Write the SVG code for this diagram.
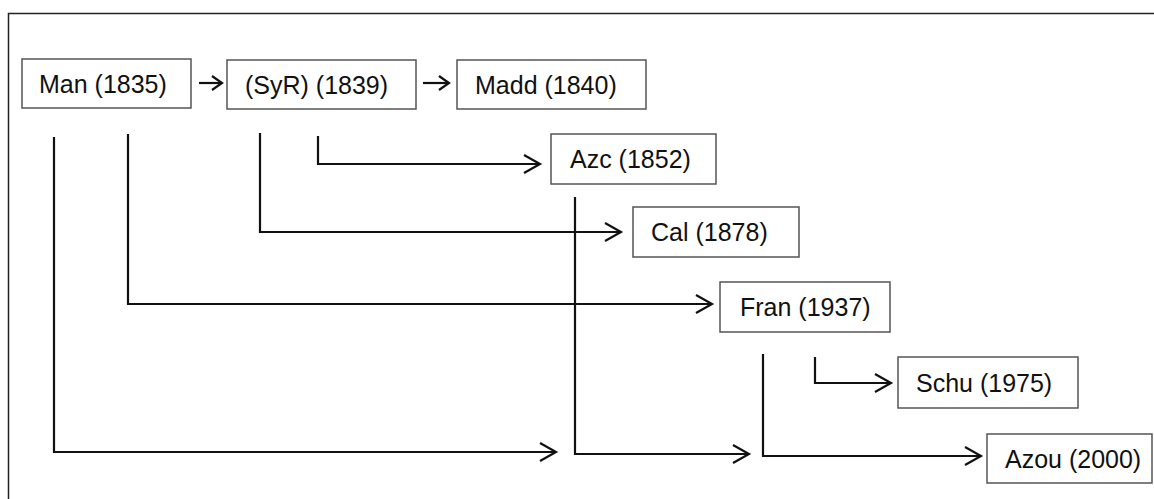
<svg xmlns="http://www.w3.org/2000/svg" width="1154" height="499" viewBox="0 0 1154 499">
<style>
.box{fill:#fff;stroke:#555;stroke-width:1.5}
.lbl{font-family:"Liberation Sans",Arial,sans-serif;font-size:25px;fill:#111}
.c{fill:none;stroke:#111;stroke-width:2.2}
</style>
<defs>
<marker id="ah" markerUnits="userSpaceOnUse" markerWidth="22" markerHeight="24" viewBox="-19 -12 22 24" refX="0" refY="0" orient="auto">
<path d="M-16,-9 L0,0 L-16,9" fill="none" stroke="#111" stroke-width="2.2"/>
</marker>
<marker id="ahs" markerUnits="userSpaceOnUse" markerWidth="16" markerHeight="18" viewBox="-13 -9 16 18" refX="0" refY="0" orient="auto">
<path d="M-10,-7 L0,0 L-10,7" fill="none" stroke="#111" stroke-width="2.2"/>
</marker>
</defs>
<rect width="1154" height="499" fill="#fff"/>
<path d="M8.5,499 V13.5 H1154" fill="none" stroke="#222" stroke-width="1.5"/>
<g id="connectors">
<path class="c" d="M199,83 H222" marker-end="url(#ahs)"/>
<path class="c" d="M423,83 H449" marker-end="url(#ahs)"/>
<path class="c" d="M54,137 V452 H556" marker-end="url(#ah)"/>
<path class="c" d="M128,134 V304 H712" marker-end="url(#ah)"/>
<path class="c" d="M260,133 V232 H621" marker-end="url(#ah)"/>
<path class="c" d="M318,136 V164 H540" marker-end="url(#ah)"/>
<path class="c" d="M575,197 V454 H749" marker-end="url(#ah)"/>
<path class="c" d="M763,354 V456 H981" marker-end="url(#ah)"/>
<path class="c" d="M815,357 V383 H891" marker-end="url(#ah)"/>
</g>
<g id="man"><rect class="box" x="22" y="59" width="169" height="49"/><text class="lbl" x="39" y="93">Man (1835)</text></g>
<g id="syr"><rect class="box" x="227" y="60" width="189" height="49"/><text class="lbl" x="245" y="94">(SyR) (1839)</text></g>
<g id="madd"><rect class="box" x="457" y="60" width="189" height="49"/><text class="lbl" x="475" y="94">Madd (1840)</text></g>
<g id="azc"><rect class="box" x="551" y="134" width="165" height="50"/><text class="lbl" x="570" y="168">Azc (1852)</text></g>
<g id="cal"><rect class="box" x="633" y="207" width="166" height="50"/><text class="lbl" x="651" y="241">Cal (1878)</text></g>
<g id="fran"><rect class="box" x="720" y="282" width="170" height="50"/><text class="lbl" x="740" y="316">Fran (1937)</text></g>
<g id="schu"><rect class="box" x="898" y="357" width="180" height="51"/><text class="lbl" x="916" y="392">Schu (1975)</text></g>
<g id="azou"><rect class="box" x="987" y="434" width="165" height="49"/><text class="lbl" x="1005" y="468">Azou (2000)</text></g>
</svg>
